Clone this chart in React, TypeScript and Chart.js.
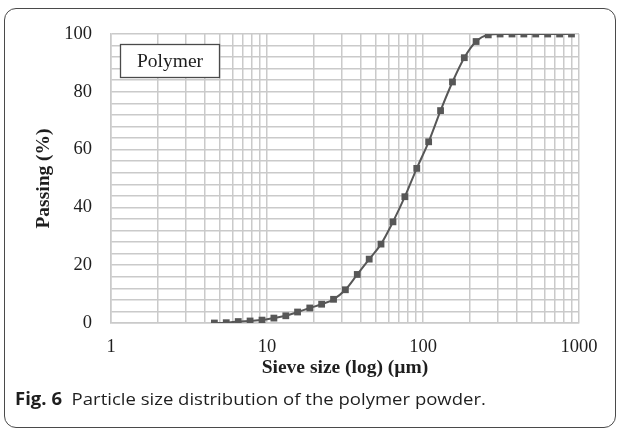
import React, { useEffect, useRef } from 'react';
import { Chart, registerables } from 'chart.js';

Chart.register(...registerables);

// Sieve sizes (µm) and cumulative passing (%)
const sieveSizes = [
  4.6, 5.48, 6.54, 7.79, 9.29, 11.07, 13.2, 15.7, 18.8, 22.4, 26.7, 31.8, 37.9, 45.2, 53.8,
  64.2, 76.5, 91.2, 108.7, 129.6, 154.5, 184, 219, 262, 312, 372, 443, 528, 630, 751, 895,
];
const passing = [
  0, 0.1, 0.5, 0.7, 1.0, 1.7, 2.5, 3.8, 5.2, 6.5, 8.2, 11.5, 16.8, 22.1, 27.3,
  35, 43.7, 53.5, 62.7, 73.5, 83.4, 91.8, 97.4, 99.7, 100, 100, 100, 100, 100, 100, 100,
];
const xTickValues = [
  1, 2, 3, 4, 5, 6, 7, 8, 9,
  10, 20, 30, 40, 50, 60, 70, 80, 90,
  100, 200, 300, 400, 500, 600, 700, 800, 900,
  1000,
];
const xLabelValues = [1, 10, 100, 1000];
const yLabelValues = [0, 20, 40, 60, 80, 100];
const seriesName = 'Polymer';
const xTitle = 'Sieve size (log) (µm)';
const yTitle = 'Passing (%)';

const SERIF = '"Liberation Serif", "Times New Roman", serif';

const legendBoxPlugin = {
  id: 'legendBox',
  afterDatasetsDraw(chart: any) {
    const { ctx, chartArea } = chart;
    const x = chartArea.left + 9;
    const y = chartArea.top + 10;
    const w = 99;
    const h = 33;
    ctx.save();
    ctx.fillStyle = '#ffffff';
    ctx.fillRect(x, y, w, h);
    ctx.strokeStyle = '#4a4a4a';
    ctx.lineWidth = 1.3;
    ctx.strokeRect(x + 0.5, y + 0.5, w, h);
    ctx.fillStyle = '#1e1e1e';
    ctx.font = '19.5px ' + SERIF;
    ctx.textAlign = 'center';
    ctx.textBaseline = 'middle';
    ctx.fillText(chart.data.datasets[0].label, x + w / 2 + 0.5, y + h / 2 + 1);
    ctx.restore();
  },
};

export default function App() {
  const canvasRef = useRef<HTMLCanvasElement | null>(null);

  useEffect(() => {
    const canvas = canvasRef.current;
    if (!canvas) return;
    const gridColor = '#cacaca';
    const chart = new Chart(canvas, {
      type: 'line',
      data: {
        datasets: [
          {
            label: seriesName,
            data: sieveSizes.map((s, i) => ({ x: s, y: passing[i] })),
            borderColor: '#575757',
            backgroundColor: '#575757',
            borderWidth: 2,
            pointStyle: 'rect',
            pointRadius: 4.8,
            pointBorderWidth: 0,
            pointBackgroundColor: '#575757',
            cubicInterpolationMode: 'monotone',
            fill: false,
          },
        ],
      },
      options: {
        responsive: false,
        animation: false,
        events: [],
        layout: { padding: { top: 34, right: 43, left: 0, bottom: 0 } },
        plugins: {
          legend: { display: false },
          tooltip: { enabled: false },
        },
        scales: {
          x: {
            type: 'logarithmic',
            position: 'bottom',
            min: 1,
            max: 1000,
            afterBuildTicks: (scale: any) => {
              scale.ticks = xTickValues.map((v) => ({ value: v }));
            },
            afterFit: (scale: any) => {
              scale.height = 67;
            },
            grid: { color: gridColor, lineWidth: 1.5, drawTicks: false },
            border: { color: gridColor, width: 1.5 },
            ticks: {
              autoSkip: false,
              maxRotation: 0,
              padding: 13,
              color: '#1e1e1e',
              font: { family: SERIF, size: 18.5 },
              callback: (v: any) => (xLabelValues.includes(Number(v)) ? String(v) : ''),
            },
            title: {
              display: true,
              text: xTitle,
              color: '#1e1e1e',
              font: { family: SERIF, size: 19.5, weight: 'bold' },
              padding: { top: 0, bottom: 10 },
            },
          },
          y: {
            type: 'linear',
            min: 0,
            max: 100,
            afterFit: (scale: any) => {
              scale.width = 111;
            },
            grid: { color: gridColor, lineWidth: 1.5, drawTicks: false },
            border: { color: gridColor, width: 1.5 },
            ticks: {
              stepSize: 4,
              autoSkip: false,
              padding: 19,
              color: '#1e1e1e',
              font: { family: SERIF, size: 18.5 },
              callback: (v: any) => (yLabelValues.includes(Number(v)) ? String(v) : ''),
            },
            title: {
              display: true,
              text: yTitle,
              color: '#1e1e1e',
              font: { family: SERIF, size: 19.5, weight: 'bold' },
              padding: { top: 32, bottom: 0 },
            },
          },
        },
      },
      plugins: [legendBoxPlugin],
    });
    return () => chart.destroy();
  }, []);

  return (
    <div
      style={{
        position: 'fixed',
        left: 0,
        top: 0,
        width: 622,
        height: 428,
        overflow: 'hidden',
        background: '#ffffff',
      }}
    >
      <div
        style={{
          position: 'absolute',
          left: 4,
          top: 8,
          width: 612,
          height: 420,
          border: '1.5px solid #4a4a4a',
          borderRadius: 12,
          boxSizing: 'border-box',
        }}
      />
      <canvas
        ref={canvasRef}
        width={622}
        height={390}
        style={{ position: 'absolute', left: 0, top: 0, width: 622, height: 390 }}
      />
      <div
        style={{
          position: 'absolute',
          left: 15,
          top: 388,
          fontFamily: '"Open Sans", "Noto Sans", sans-serif',
          fontSize: 17,
          lineHeight: '22px',
          color: '#1e1e1e',
          whiteSpace: 'pre',
          transform: 'scaleX(1.09)',
          transformOrigin: 'left center',
        }}
      >
        <b>Fig. 6</b>
        {'  Particle size distribution of the polymer powder.'}
      </div>
    </div>
  );
}
